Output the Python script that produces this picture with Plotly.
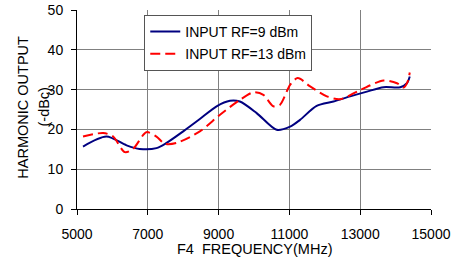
import plotly.graph_objects as go

freq_9 = [5170, 5830, 6400, 6770, 7245, 7530, 8000, 8470, 8943, 9320, 9600, 10075,
          10640, 11020, 11300, 11770, 12245, 12717, 13190, 13660, 14130, 14320, 14400]
out_9 = [15.7, 18.2, 16.0, 15.1, 15.3, 16.6, 19.5, 22.6, 25.8, 27.2, 27.0, 24.1,
         19.9, 20.7, 22.4, 25.9, 27.0, 28.3, 29.5, 30.6, 30.6, 31.6, 33.3]

freq_13 = [5170, 5740, 6020, 6350, 6585, 6960, 7245, 7480, 7810, 8470, 9040, 9600,
           9980, 10264, 10547, 10736, 11020, 11236, 11585, 12057, 12434, 13000, 13660,
           14040, 14225, 14340, 14400]
out_13 = [18.2, 19.1, 18.2, 14.3, 15.1, 19.3, 18.2, 16.4, 16.6, 19.5, 23.7, 27.4,
          29.3, 28.7, 25.8, 26.2, 31.2, 32.9, 30.8, 28.3, 27.6, 29.9, 32.3,
          31.6, 30.5, 32.0, 34.3]

x_ticks = [5000, 7000, 9000, 11000, 13000, 15000]
y_ticks = [0, 10, 20, 30, 40, 50]

FONT = "Arial, Liberation Sans, sans-serif"

fig = go.Figure()
fig.add_trace(go.Scatter(x=freq_9, y=out_9, mode="lines", name="INPUT RF=9 dBm",
                         legendgroup="a",
                         line=dict(color="#000080", width=2, shape="spline", smoothing=0.8)))
fig.add_trace(go.Scatter(x=freq_13, y=out_13, mode="lines", name="INPUT RF=13 dBm",
                         legendgroup="b",
                         line=dict(color="#FF0000", width=2, shape="spline", smoothing=0.8,
                                   dash="10px,5px")))

tick_font = dict(family=FONT, size=14, color="black")
title_font = dict(family=FONT, size=14.5, color="black")

fig.update_layout(
    width=464, height=259,
    margin=dict(l=77, r=33, t=10, b=50),
    paper_bgcolor="white", plot_bgcolor="white",
    font=tick_font,
    showlegend=True,
    legend=dict(x=0.19, y=0.975, xanchor="left", yanchor="top",
                bordercolor="#555555", borderwidth=1, bgcolor="white",
                font=dict(family=FONT, size=14, color="black"),
                tracegroupgap=1, itemwidth=30),
    xaxis=dict(range=[5000, 15000], tickvals=x_ticks, ticktext=[str(v) for v in x_ticks],
               showgrid=True, gridcolor="#808080", gridwidth=1,
               showline=True, linecolor="black", linewidth=1,
               ticks="outside", ticklen=5, tickcolor="black", ticklabelstandoff=7,
               tickfont=tick_font, zeroline=False, automargin=False),
    yaxis=dict(range=[0, 50], tickvals=y_ticks,
               showgrid=True, gridcolor="#808080", gridwidth=1,
               showline=True, linecolor="black", linewidth=1,
               ticks="outside", ticklen=5, tickcolor="black", ticklabelstandoff=5,
               tickfont=tick_font, zeroline=False, automargin=False),
    annotations=[
        dict(text="F4  FREQUENCY(MHz)", xref="paper", yref="paper", x=0.5, y=-0.2,
             xanchor="center", yanchor="middle", showarrow=False, font=title_font),
        dict(text="HARMONIC OUTPUT", xref="paper", yref="paper", x=-0.155, y=0.51,
             xanchor="center", yanchor="middle", textangle=-90, showarrow=False,
             font=title_font),
        dict(text="(-dBc)", xref="paper", yref="paper", x=-0.096, y=0.51,
             xanchor="center", yanchor="middle", textangle=-90, showarrow=False,
             font=title_font),
    ],
)

fig.write_html("out.html", config={"displayModeBar": False},
               post_script="document.body.style.margin='0';")
